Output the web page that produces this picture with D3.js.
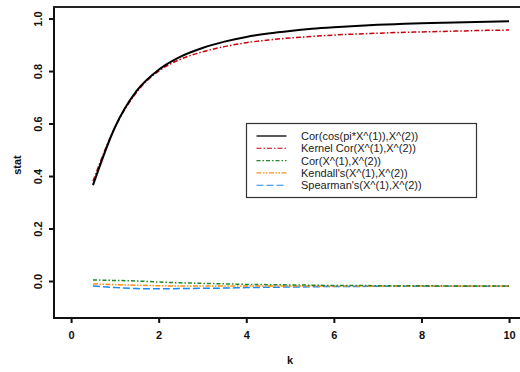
<!DOCTYPE html>
<html>
<head>
<meta charset="utf-8">
<script src="https://cdn.jsdelivr.net/npm/d3@7"></script>
<style>
  body { margin: 0; background: #fff; }
  svg text { font-family: "Liberation Sans", Arial, sans-serif; }
</style>
</head>
<body>
<div id="chart"></div>
<script>
// k grid and series values
const kValues = [0.5, 1, 1.5, 2, 2.5, 3, 3.5, 4, 4.5, 5, 5.5, 6, 6.5, 7, 7.5, 8, 8.5, 9, 9.5, 10];
const cosCor = [0.365, 0.585, 0.725, 0.805, 0.855, 0.888, 0.912, 0.930, 0.943, 0.953, 0.961, 0.967, 0.972, 0.976, 0.979, 0.982, 0.984, 0.986, 0.988, 0.990];
const kernelCor = [0.38, 0.585, 0.72, 0.80, 0.845, 0.873, 0.893, 0.908, 0.918, 0.926, 0.932, 0.937, 0.941, 0.944, 0.947, 0.949, 0.951, 0.953, 0.955, 0.956];
const pearsonCor = [0.004, 0.002, 0.0, -0.004, -0.007, -0.009, -0.011, -0.013, -0.014, -0.015, -0.016, -0.017, -0.017, -0.018, -0.018, -0.018, -0.019, -0.019, -0.019, -0.019];
const kendallCor = [-0.011, -0.014, -0.016, -0.018, -0.019, -0.019, -0.019, -0.019, -0.019, -0.019, -0.019, -0.019, -0.019, -0.019, -0.019, -0.019, -0.019, -0.019, -0.019, -0.019];
const spearmanCor = [-0.019, -0.025, -0.029, -0.030, -0.029, -0.028, -0.027, -0.025, -0.024, -0.023, -0.022, -0.021, -0.021, -0.020, -0.020, -0.020, -0.020, -0.020, -0.020, -0.020];

const xTicks = [0, 2, 4, 6, 8, 10];
const yTicks = [0.0, 0.2, 0.4, 0.6, 0.8, 1.0];

const seriesNames = ['Cor(cos(pi*X^(1)),X^(2))', 'Kernel Cor(X^(1),X^(2))', 'Cor(X^(1),X^(2))', "Kendall's(X^(1),X^(2))", "Spearman's(X^(1),X^(2))"];
const seriesValues = [cosCor, kernelCor, pearsonCor, kendallCor, spearmanCor];
const seriesStyle = [
  { color: '#000000', width: 2, dash: null },
  { color: '#c8000a', width: 1.5, dash: '5,2,1.5,2' },
  { color: '#1f8a2a', width: 1.5, dash: '4,2,1.5,2' },
  { color: '#ff8c1a', width: 1.5, dash: '5,1.5,1.5,1.5,1.5,1.5' },
  { color: '#1e88f0', width: 1.5, dash: '7,3' }
];

const width = 520, height = 372;
const svg = d3.select('#chart').append('svg')
  .attr('width', width)
  .attr('height', height);

const plotLeft = 54, plotRight = 520, plotTop = 7, plotBottom = 318;

const xScale = d3.scaleLinear().domain([-0.39, 10.25]).range([plotLeft, plotRight]);
const yScale = d3.scaleLinear().domain([-0.141, 1.044]).range([plotBottom, plotTop]);

const line = d3.line()
  .x((d) => xScale(d.k))
  .y((d) => yScale(d.v))
  .curve(d3.curveMonotoneX);

// series (draw low ones first, black last on top)
const order = [4, 3, 2, 1, 0];
order.forEach(function (i) {
  const data = kValues.map((k, j) => ({ k: k, v: seriesValues[i][j] }));
  const st = seriesStyle[i];
  svg.append('path')
    .datum(data)
    .attr('fill', 'none')
    .attr('stroke', st.color)
    .attr('stroke-width', st.width)
    .attr('stroke-dasharray', st.dash)
    .attr('d', line);
});

// frame: left, bottom and top lines
svg.append('line')
  .attr('x1', plotLeft).attr('x2', plotLeft).attr('y1', plotTop - 1).attr('y2', plotBottom + 1)
  .attr('stroke', '#111').attr('stroke-width', 2);
svg.append('line')
  .attr('x1', plotLeft - 1).attr('x2', plotRight).attr('y1', plotBottom).attr('y2', plotBottom)
  .attr('stroke', '#111').attr('stroke-width', 2);
svg.append('line')
  .attr('x1', plotLeft - 1).attr('x2', plotRight).attr('y1', plotTop).attr('y2', plotTop)
  .attr('stroke', '#222').attr('stroke-width', 2);

// x axis
const xAxis = svg.append('g')
  .attr('transform', `translate(0,${plotBottom})`)
  .call(d3.axisBottom(xScale).tickValues(xTicks).tickSize(5).tickPadding(8).tickFormat(d3.format('d')));
xAxis.select('.domain').remove();
xAxis.selectAll('line').attr('stroke', '#111').attr('stroke-width', 2);
xAxis.selectAll('text')
  .attr('font-size', 11).attr('font-weight', 'bold').attr('fill', '#111');

// y axis, labels rotated
const yAxis = svg.append('g')
  .attr('transform', `translate(${plotLeft},0)`)
  .call(d3.axisLeft(yScale).tickValues(yTicks).tickSize(5).tickFormat(d3.format('.1f')));
yAxis.select('.domain').remove();
yAxis.selectAll('line').attr('stroke', '#111').attr('stroke-width', 2);
yAxis.selectAll('text')
  .attr('x', null).attr('dy', null)
  .attr('text-anchor', 'middle')
  .attr('transform', 'translate(-12,0) rotate(-90)')
  .attr('font-size', 11).attr('font-weight', 'bold').attr('fill', '#111');

// axis titles
svg.append('text')
  .attr('x', 290).attr('y', 364)
  .attr('text-anchor', 'middle')
  .attr('font-size', 11).attr('font-weight', 'bold').attr('fill', '#111')
  .text('k');
svg.append('text')
  .attr('transform', 'translate(21,165) rotate(-90)')
  .attr('text-anchor', 'middle')
  .attr('font-size', 11).attr('font-weight', 'bold').attr('fill', '#111')
  .text('stat');

// legend
const legend = svg.append('g').attr('transform', 'translate(246.5,123.5)');
legend.append('rect')
  .attr('width', 230).attr('height', 74)
  .attr('fill', '#fff').attr('stroke', '#333').attr('stroke-width', 1.2);
seriesNames.forEach(function (name, i) {
  const y = 12.5 + i * 12.3;
  const st = seriesStyle[i];
  legend.append('line')
    .attr('x1', 10).attr('x2', 40).attr('y1', y).attr('y2', y)
    .attr('stroke', st.color)
    .attr('stroke-width', i === 0 ? 1.3 : 1.1)
    .attr('stroke-dasharray', st.dash);
  legend.append('text')
    .attr('x', 54.5).attr('y', y + 4)
    .attr('font-size', 11).attr('fill', '#222')
    .text(name);
});
</script>
</body>
</html>
